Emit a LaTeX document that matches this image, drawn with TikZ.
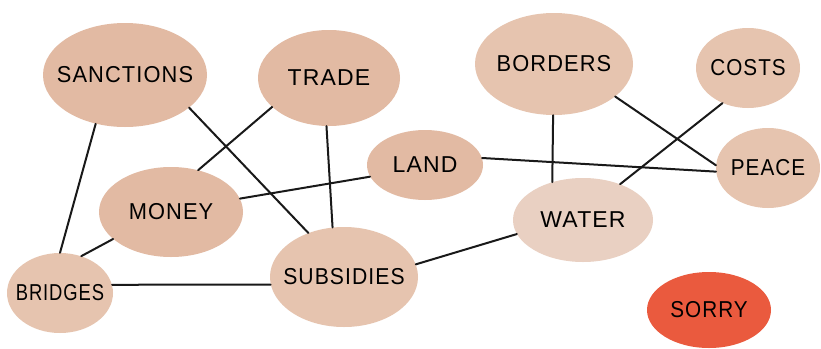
\documentclass[tikz,border=0pt]{standalone}
\usepackage{fontspec}
\usepackage{graphicx}
\setmainfont{Liberation Sans}
\newfontfamily\handfont[LetterSpace=5]{Liberation Sans}
\usetikzlibrary{shapes.geometric}
\definecolor{blobA}{HTML}{E2BAA3}
\definecolor{blobB}{HTML}{E6C4AF}
\definecolor{blobC}{HTML}{E9D0C2}
\definecolor{sorryred}{HTML}{EA5A3E}
\newcommand{\blobtext}[2][1]{\makebox[0pt][c]{\scalebox{#1}[1]{#2}}}
\tikzset{
  blob/.style={ellipse, inner sep=0pt, fill=#1, font=\handfont\fontsize{23}{23}\selectfont, text=black},
  link/.style={draw=black!90, line width=2pt, line cap=round}
}
\begin{document}
\begin{tikzpicture}[x=1pt,y=-1pt]
\useasboundingbox (0,0) rectangle (821,348);
\fill[white] (0,0) rectangle (821,348);
\node[blob=blobA, minimum width=164pt, minimum height=104pt] (sanctions) at (125,75) {\blobtext[0.95]{SANCTIONS}};
\node[blob=blobA, minimum width=142pt, minimum height=96pt] (trade) at (329,78) {\blobtext{TRADE}};
\node[blob=blobA, minimum width=116pt, minimum height=70pt] (land) at (425,165) {\blobtext{LAND}};
\node[blob=blobB, minimum width=158pt, minimum height=102pt] (borders) at (554,64) {\blobtext[0.95]{BORDERS}};
\node[blob=blobB, minimum width=104pt, minimum height=80pt] (costs) at (748,68) {\blobtext[0.9]{COSTS}};
\node[blob=blobB, minimum width=104pt, minimum height=80pt] (peace) at (768,168) {\blobtext[0.9]{PEACE}};
\node[blob=blobA, minimum width=144pt, minimum height=90pt] (money) at (171,212) {\blobtext[0.95]{MONEY}};
\node[blob=blobB, minimum width=106pt, minimum height=80pt] (bridges) at (60,293) {\blobtext[0.8]{BRIDGES}};
\node[blob=blobB, minimum width=148pt, minimum height=100pt] (subsidies) at (344,277) {\blobtext[0.92]{SUBSIDIES}};
\node[blob=blobC, minimum width=140pt, minimum height=84pt] (water) at (583,220) {\blobtext{WATER}};
\node[blob=sorryred, minimum width=124pt, minimum height=76pt] (sorry) at (709,310) {\blobtext[0.9]{SORRY}};
\draw[link] (sanctions.239) -- (bridges.90);
\draw[link] (sanctions.333) -- (subsidies.129);
\draw[link] (trade.207) -- (money.57);
\draw[link] (trade.267) -- (subsidies.103);
\draw[link] (land.192) -- (money.11);
\draw[link] (land.7) -- (peace.184);
\draw[link] (money.205) -- (bridges.60);
\draw[link] (bridges.9) -- (subsidies.186);
\draw[link] (subsidies.10) -- (water.192);
\draw[link] (borders.269) -- (water.129);
\draw[link] (borders.332) -- (peace.177);
\draw[link] (costs.234) -- (water.44);
\end{tikzpicture}
\end{document}
